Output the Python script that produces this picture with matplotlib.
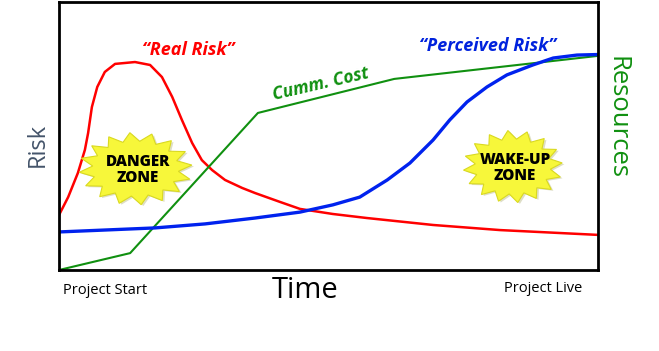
import numpy as np
import matplotlib.pyplot as plt
from matplotlib.patches import Polygon

plt.rcParams['font.family'] = ['Open Sans', 'DejaVu Sans']

# time axis 0..100, value axis 0..100
real_t = [0, 1.7, 3.5, 4.8, 5.4, 6.1, 7.1, 8.5, 10.4, 14.1, 16.9, 19.1, 21.0, 22.8, 24.7,
          26.5, 28.4, 30.8, 34.0, 36.4, 41.0, 44.7, 50.8, 57.1, 69.4, 81.8, 100]
real_v = [20.5, 27.2, 36.2, 44.8, 51.1, 60.8, 68.3, 73.9, 76.9, 77.6, 76.5, 72.0, 64.6, 56.0, 47.4,
          41.0, 37.3, 33.6, 30.6, 28.7, 25.4, 22.8, 20.9, 19.4, 16.8, 14.9, 13.1]

perc_t = [0, 17.8, 27.1, 36.4, 44.7, 50.8, 55.8, 60.9, 65.1, 69.4, 72.5, 75.7, 79.4, 83.1,
          87.9, 91.7, 96.1, 100]
perc_v = [14.2, 15.7, 17.2, 19.4, 21.6, 24.3, 27.2, 33.6, 39.9, 48.5, 56.0, 62.7, 68.3, 72.8,
          76.5, 79.1, 80.2, 80.4]

cost_t = [0, 13.2, 36.9, 62.2, 100]
cost_v = [0, 6.3, 58.6, 71.3, 79.9]

fig = plt.figure(figsize=(6.59, 3.51), dpi=100)
ax = fig.add_axes([59/659, 81/351, 539/659, 268/351])
ax.set_xlim(0, 100)
ax.set_ylim(0, 100)
ax.set_xticks([])
ax.set_yticks([])
for s in ax.spines.values():
    s.set_linewidth(2)

ax.plot(real_t, real_v, color='#ff0000', lw=1.8, solid_joinstyle='round')
ax.plot(cost_t, cost_v, color='#109010', lw=1.5)
ax.plot(perc_t, perc_v, color='#0022ee', lw=2.4, solid_joinstyle='round')

ax.text(24.0, 82.0, '\u201cReal Risk\u201d', color='#ff0000', fontsize=13, fontweight='bold',
        style='italic', ha='center', va='center')
ax.text(79.5, 83.5, '\u201cPerceived Risk\u201d', color='#0022dd', fontsize=13, fontweight='bold',
        style='italic', ha='center', va='center')
ax.text(48.5, 69.5, 'Cumm. Cost', color='#109010', fontsize=12.5, fontweight='bold',
        style='italic', ha='center', va='center', rotation=13)


def burst(cx, cy, rx, ry, n=16):
    ang = np.linspace(0, 2*np.pi, 2*n, endpoint=False) + 0.1
    r = np.where(np.arange(2*n) % 2 == 0, 1.0, 0.76)
    pts = np.column_stack([cx + rx*r*np.cos(ang), cy + ry*r*np.sin(ang)])
    ax.add_patch(Polygon(pts, closed=True, facecolor='#c8c8a0', edgecolor='none',
                         zorder=3, alpha=0.6))
    ax.add_patch(Polygon(pts - [0.4, -0.5], closed=True, facecolor='#f7f73a',
                         edgecolor='#d9d920', lw=0.8, zorder=4))


burst(14.6, 37.3, 10.5, 13.5)
ax.text(14.6, 37.3, 'DANGER\nZONE', fontsize=11, fontweight='heavy', ha='center', va='center',
        zorder=5, linespacing=1.0)
burst(84.6, 38.1, 9.2, 13.5)
ax.text(84.6, 38.1, 'WAKE-UP\nZONE', fontsize=11, fontweight='heavy', ha='center', va='center',
        zorder=5, linespacing=1.0)

fig.text(38/659, 1 - 145/351, 'Risk', fontsize=17, color='#44546a', rotation=90,
         ha='center', va='center')
fig.text(617/659, 1 - 118/351, 'Resources', fontsize=18.5, color='#109010', rotation=-90,
         ha='center', va='center')
fig.text(305/659, 1 - 291/351, 'Time', fontsize=21, ha='center', va='center')
fig.text(105/659, 1 - 290/351, 'Project Start', fontsize=10.5, ha='center', va='center')
fig.text(543/659, 1 - 289/351, 'Project Live', fontsize=10.5, ha='center', va='center')

fig.savefig('out.png', dpi=100)
